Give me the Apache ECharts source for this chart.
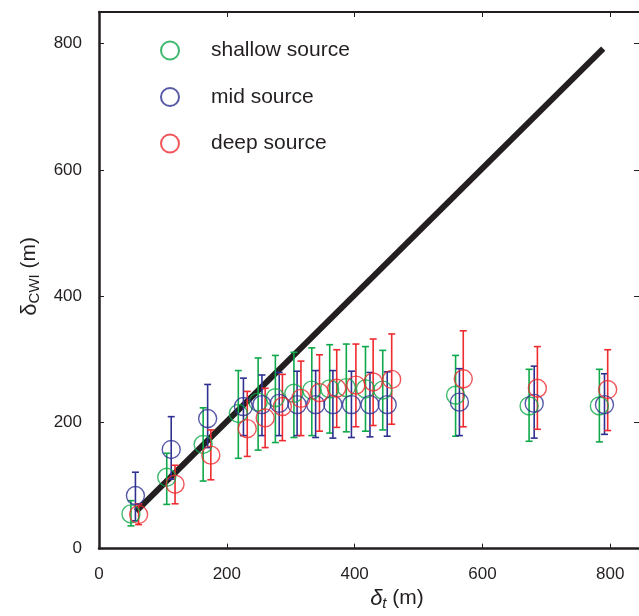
<!DOCTYPE html>
<html><head><meta charset="utf-8">
<script src="https://cdn.jsdelivr.net/npm/echarts@6/dist/echarts.min.js"></script>
<style>html,body{margin:0;padding:0;background:#fff}#c{width:639px;height:616px}</style>
</head><body><div id="c"></div>
<script>
const xTicks = [0, 200, 400, 600, 800];
const yTicks = [0, 200, 400, 600, 800];
const lineX = [58, 789];
const lineY = [59, 792];

const shallowX  = [50, 106, 163, 218, 249, 276, 305, 333, 361, 387, 417, 444, 558, 673, 783];
const shallowY  = [55, 113, 165, 214, 232, 239, 246, 251, 253, 255, 253, 251, 243, 226, 226];
const shallowHi = [76, 151, 223, 282, 302, 306, 311, 318, 323, 324, 320, 314, 306, 284, 284];
const shallowLo = [36, 70, 107, 143, 156, 168, 176, 179, 183, 185, 186, 188, 178, 170, 169];

const midX  = [57, 113, 170, 226, 255, 282, 310, 339, 366, 395, 424, 451, 564, 681, 791];
const midY  = [84, 157, 206, 225, 228, 230, 228, 228, 228, 228, 228, 228, 232, 230, 228];
const midHi = [121, 209, 260, 270, 275, 279, 281, 282, 282, 281, 279, 280, 285, 289, 277];
const midLo = [44, 110, 160, 179, 179, 179, 179, 176, 175, 176, 177, 178, 179, 175, 181];

const deepX  = [62, 119, 175, 232, 260, 287, 316, 345, 372, 402, 429, 458, 570, 686, 796];
const deepY  = [54, 102, 148, 190, 207, 225, 238, 247, 254, 259, 264, 268, 269, 254, 252];
const deepHi = [71, 132, 188, 249, 254, 276, 297, 307, 315, 324, 332, 340, 345, 320, 315];
const deepLo = [38, 71, 109, 146, 160, 171, 179, 186, 192, 193, 195, 197, 193, 189, 187];

const GREEN = '#0fa84a', BLUE = '#2e3192', RED = '#ee2b2f';
const FONT = '"Liberation Sans", Arial, Helvetica, sans-serif';
const INK = '#231f20';

function errSeries(name, xs, lo, hi, color) {
  return {
    type: 'custom', name: name + '_err', silent: true, z: 2,
    data: xs.map((x, i) => [x, lo[i], hi[i]]),
    renderItem: function (params, api) {
      const a = api.coord([api.value(0), api.value(1)]);
      const b = api.coord([api.value(0), api.value(2)]);
      const w = 3.5;
      const st = { stroke: color, lineWidth: 1.6 };
      return { type: 'group', children: [
        { type: 'line', shape: { x1: a[0], y1: a[1], x2: b[0], y2: b[1] }, style: st },
        { type: 'line', shape: { x1: a[0] - w, y1: a[1], x2: a[0] + w, y2: a[1] }, style: st },
        { type: 'line', shape: { x1: b[0] - w, y1: b[1], x2: b[0] + w, y2: b[1] }, style: st }
      ]};
    }
  };
}
function ptSeries(name, xs, ys, color) {
  return {
    type: 'scatter', name: name, z: 3,
    symbol: 'circle', symbolSize: 18,
    itemStyle: { color: 'rgba(255,255,255,0)', borderColor: color, borderWidth: 1.4 },
    data: xs.map((x, i) => [x, ys[i]])
  };
}

const chart = echarts.init(document.getElementById('c'));
chart.setOption({
  animation: false,
  textStyle: { fontFamily: FONT },
  grid: { left: 99, right: 0, top: 12, bottom: 65 },
  legend: {
    left: 155, top: 35, orient: 'vertical', itemWidth: 18, itemHeight: 18, itemGap: 25.5,
    icon: 'circle',
    data: ['shallow source', 'mid source', 'deep source'],
    textStyle: { fontSize: 21, color: INK, fontFamily: FONT, padding: [0, 0, 0, 27] }
  },
  xAxis: [{
    type: 'value', min: 0, max: 845, interval: 200,
    name: '{d|δ}{s|t}{n| (m)}', nameLocation: 'middle', nameGap: 37,
    nameTextStyle: { padding: [0, 0, 0, 56], rich: {
      d: { fontSize: 22, color: INK, fontFamily: FONT, fontStyle: 'italic' },
      s: { fontSize: 15, color: INK, fontFamily: FONT, fontStyle: 'italic', padding: [10, 0, 0, 0] },
      n: { fontSize: 21, color: INK, fontFamily: FONT } } },
    axisLine: { onZero: false, lineStyle: { color: INK, width: 2.5 } },
    axisTick: { inside: true, length: 5, lineStyle: { color: INK, width: 1 }, customValues: xTicks },
    axisLabel: { fontSize: 17, color: INK, margin: 17, customValues: xTicks },
    splitLine: { show: false }
  }, {
    type: 'value', position: 'top', min: 0, max: 845, interval: 200,
    axisLine: { onZero: false, lineStyle: { color: INK, width: 2 } },
    axisTick: { inside: true, length: 5, lineStyle: { color: INK }, customValues: xTicks },
    axisLabel: { show: false }, splitLine: { show: false }
  }],
  yAxis: [{
    type: 'value', min: 0, max: 850, interval: 200,
    name: '{d|δ}{s|CWI}{n| (m)}', nameLocation: 'middle', nameGap: 57,
    nameTextStyle: { padding: [0, 0, 0, 8], rich: {
      d: { fontSize: 22, color: INK, fontFamily: FONT },
      s: { fontSize: 15, color: INK, fontFamily: FONT, padding: [10, 0, 0, 0] },
      n: { fontSize: 21, color: INK, fontFamily: FONT } } },
    axisLine: { onZero: false, lineStyle: { color: INK, width: 2.5 } },
    axisTick: { inside: true, length: 5, lineStyle: { color: INK }, customValues: yTicks },
    axisLabel: { fontSize: 17, color: INK, margin: 17, customValues: yTicks },
    splitLine: { show: false }
  }, {
    type: 'value', position: 'right', min: 0, max: 850, interval: 200,
    axisLine: { show: false, onZero: false },
    axisTick: { show: true, inside: true, length: 5, lineStyle: { color: INK }, customValues: yTicks },
    axisLabel: { show: false }, splitLine: { show: false }
  }],
  series: [
    { type: 'line', name: 'identity', data: lineX.map((x, i) => [x, lineY[i]]), symbol: 'none', z: 1,
      lineStyle: { color: INK, width: 6 } },
    errSeries('shallow source', shallowX, shallowLo, shallowHi, GREEN),
    errSeries('mid source', midX, midLo, midHi, BLUE),
    errSeries('deep source', deepX, deepLo, deepHi, RED),
    ptSeries('shallow source', shallowX, shallowY, GREEN),
    ptSeries('mid source', midX, midY, BLUE),
    ptSeries('deep source', deepX, deepY, RED)
  ]
});
</script></body></html>
